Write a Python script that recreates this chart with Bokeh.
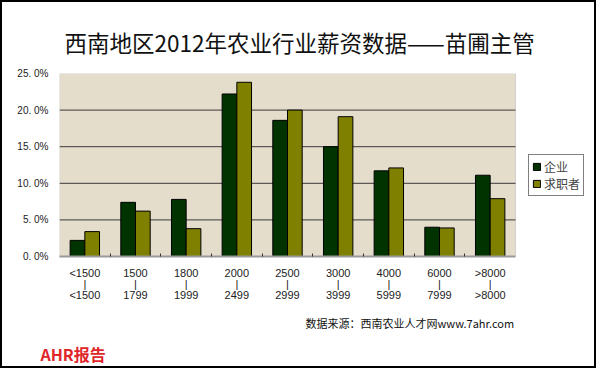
import numpy as np
from bokeh.plotting import figure
from bokeh.models import (ColumnDataSource, FixedTicker, Legend, LegendItem, Range1d, Title,
                          BoxAnnotation)
from bokeh.embed import file_html
from bokeh.resources import INLINE

# ---- data ----
cat_top = ["<1500", "1500", "1800", "2000", "2500", "3000", "4000", "6000", ">8000"]
cat_bottom = ["<1500", "1799", "1999", "2499", "2999", "3999", "5999", "7999", ">8000"]
qiye = [2.2, 7.4, 7.8, 22.2, 18.6, 15.0, 11.7, 4.0, 11.1]
qiuzhi = [3.4, 6.2, 3.8, 23.8, 20.0, 19.1, 12.1, 3.9, 7.9]
y_ticks = [0, 5, 10, 15, 20, 25]
y_tick_labels = ["0. 0%", "5. 0%", "10. 0%", "15. 0%", "20. 0%", "25. 0%"]
series_names = ["企业", "求职者"]
title_text = "西南地区2012年农业行业薪资数据——苗圃主管"
source_text = "数据来源：西南农业人才网www.7ahr.com"
logo_text = "AHR报告"

W, H = 596, 368
FL, FT, FB = 57, 71, 254      # frame edges (canvas px)
FR = 592                       # frame extends to the right to host the legend
PR = 513                       # right edge of the beige plot area
n = len(cat_top)
ymax = 25
x_end = n * (FR - FL) / (PR - FL)

idx = np.arange(n)
centers = idx + 0.5
bw = 0.29
src = ColumnDataSource(dict(x1=centers - 0.145, x2=centers + 0.145, a=qiye, b=qiuzhi))

p = figure(width=W, height=H, output_backend="svg", toolbar_location=None,
           x_range=Range1d(0, x_end), y_range=Range1d(0, ymax),
           min_border_left=FL, min_border_right=W - FR, min_border_top=FT,
           min_border_bottom=H - FB)
p.styles = {"border": "2px solid black"}
p.background_fill_color = "white"
p.border_fill_color = "white"
p.outline_line_color = None

# plot area background
p.add_layout(BoxAnnotation(left=0, right=n, bottom=0, top=ymax, fill_color="#e5ddcc",
                           fill_alpha=1.0, line_color="#8a8a8a", line_width=1,
                           level="underlay"))

p.title.text = title_text
p.title.align = "left"
p.title.vertical_align = "middle"
p.title.offset = 5
p.title.standoff = 30
p.title.text_font = "Noto Sans CJK SC"
p.title.text_font_size = "22.5px"
p.title.text_font_style = "normal"
p.title.text_color = "#111111"

# horizontal grid lines limited to the plot area
grid_y = y_ticks[1:-1]
p.segment(x0=[0] * len(grid_y), x1=[n] * len(grid_y), y0=grid_y, y1=grid_y,
          line_color="#3a3a3a", line_width=1)

r1 = p.vbar(x="x1", top="a", width=bw, source=src, fill_color="#003300",
            line_color="black", line_width=1)
r2 = p.vbar(x="x2", top="b", width=bw, source=src, fill_color="#808000",
            line_color="black", line_width=1)

p.grid.grid_line_color = None

# y axis
ya = p.yaxis[0]
ya.ticker = FixedTicker(ticks=y_ticks)
ya.major_label_overrides = {t: l for t, l in zip(y_ticks, y_tick_labels)}
ya.axis_line_color = None
ya.major_tick_line_color = None
ya.minor_tick_line_color = None
ya.major_tick_in = 0
ya.major_tick_out = 0
ya.major_label_standoff = 11
ya.major_label_text_font = "Liberation Sans"
ya.major_label_text_font_size = "10px"
ya.major_label_text_color = "#222222"

# x axis
xa = p.xaxis[0]
xa.bounds = (0, n)
xa.ticker = FixedTicker(ticks=list(centers), minor_ticks=list(idx[1:].astype(float)))
xa.major_label_overrides = {float(c): f"{t}\n|\n{b}" for c, t, b in zip(centers, cat_top, cat_bottom)}
xa.axis_line_color = "#9a9a9a"
xa.axis_line_width = 2
xa.major_tick_line_color = None
xa.major_tick_in = 0
xa.major_tick_out = 0
xa.minor_tick_in = 3
xa.minor_tick_out = 0
xa.minor_tick_line_color = "#333333"
xa.major_label_standoff = 10
xa.major_label_text_font = "Liberation Sans"
xa.major_label_text_font_size = "11px"
xa.major_label_text_line_height = 0.92
xa.major_label_text_color = "#222222"

# legend, inside the (extended) frame, right of the plot area
legend = Legend(items=[LegendItem(label=series_names[0], renderers=[r1]),
                       LegendItem(label=series_names[1], renderers=[r2])],
                location=(PR - FL + 13, 60), orientation="vertical")
legend.border_line_color = "black"
legend.border_line_width = 1
legend.background_fill_color = "white"
legend.label_text_font = "Noto Sans CJK SC"
legend.label_text_font_size = "12px"
legend.glyph_width = 9
legend.glyph_height = 9
legend.label_standoff = 3
legend.spacing = 0
legend.padding = 3
legend.margin = 0
legend.label_height = 11
p.add_layout(legend, "center")

# footer texts
src_title = Title(text=source_text, align="left", offset=246, standoff=18,
                  text_font="Noto Sans CJK SC", text_font_size="11px",
                  text_font_style="normal", text_color="#111111", text_line_height=1.0)
p.add_layout(src_title, "below")
logo_title = Title(text=logo_text, align="left", offset=-19, standoff=0,
                   text_font="Noto Sans CJK SC", text_font_size="16px",
                   text_font_style="bold", text_color="#e0252b", text_line_height=1.0)
p.add_layout(logo_title, "below")

open("out.html", "w").write(file_html(p, INLINE))
